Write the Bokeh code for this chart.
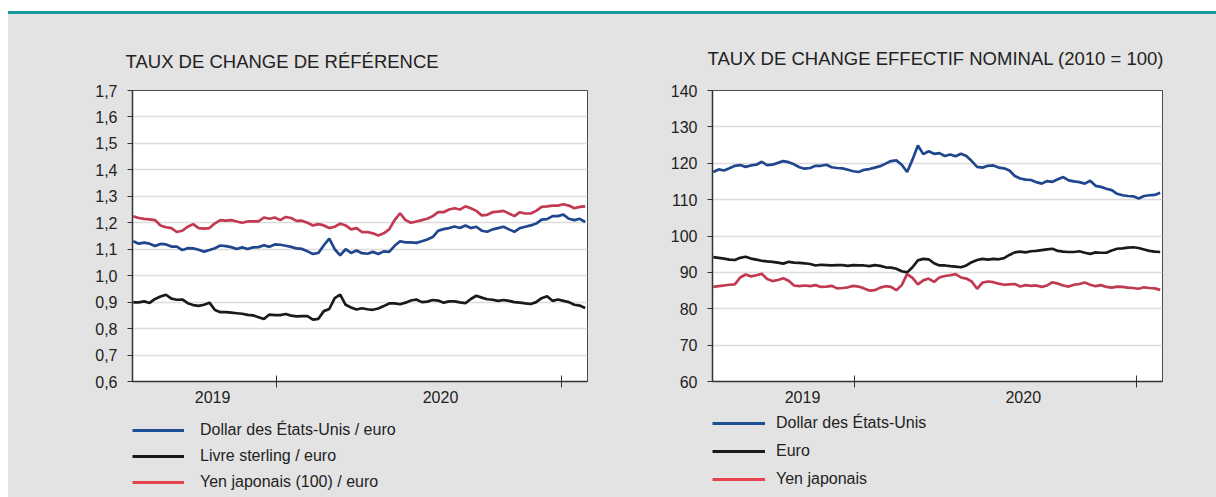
import pandas as pd
from bokeh.plotting import figure
from bokeh.layouts import row, column
from bokeh.models import (Range1d, FixedTicker, CustomJSTickFormatter, Legend, LegendItem, Div)
from bokeh.embed import file_html
from bokeh.resources import INLINE

# ---------------- data (weekly readings) ----------------
dates = pd.date_range("2019-07-01", periods=84, freq="7D")

usd_eur = [1.130, 1.121, 1.125, 1.121, 1.112, 1.120, 1.118, 1.110, 1.110, 1.097,
           1.104, 1.103, 1.098, 1.091, 1.097, 1.104, 1.114, 1.112, 1.108, 1.101,
           1.107, 1.101, 1.107, 1.108, 1.115, 1.109, 1.118, 1.117, 1.113, 1.109,
           1.103, 1.101, 1.092, 1.082, 1.086, 1.115, 1.140, 1.100, 1.077, 1.100,
           1.086, 1.095, 1.085, 1.083, 1.090, 1.082, 1.092, 1.090, 1.113, 1.130,
           1.126, 1.126, 1.124, 1.130, 1.137, 1.146, 1.170, 1.176, 1.180, 1.186,
           1.180, 1.190, 1.180, 1.185, 1.170, 1.166, 1.175, 1.180, 1.185, 1.175,
           1.166, 1.180, 1.185, 1.190, 1.197, 1.212, 1.214, 1.225, 1.225, 1.231,
           1.215, 1.210, 1.215, 1.203]

gbp_eur = [0.899, 0.899, 0.903, 0.897, 0.912, 0.921, 0.928, 0.913, 0.909, 0.910,
           0.896, 0.889, 0.886, 0.890, 0.898, 0.870, 0.862, 0.862, 0.860, 0.858,
           0.856, 0.852, 0.850, 0.843, 0.836, 0.853, 0.851, 0.851, 0.855, 0.849,
           0.846, 0.847, 0.847, 0.834, 0.837, 0.866, 0.874, 0.915, 0.928, 0.890,
           0.880, 0.872, 0.877, 0.873, 0.871, 0.876, 0.885, 0.895, 0.895, 0.892,
           0.898, 0.906, 0.910, 0.900, 0.902, 0.908, 0.906, 0.898, 0.903, 0.903,
           0.899, 0.896, 0.912, 0.924, 0.917, 0.911, 0.909, 0.905, 0.908, 0.905,
           0.900, 0.898, 0.895, 0.893, 0.900, 0.915, 0.922, 0.905, 0.910, 0.905,
           0.900, 0.890, 0.887, 0.878]

jpy_eur = [1.225, 1.218, 1.215, 1.213, 1.210, 1.190, 1.183, 1.180, 1.165, 1.170,
           1.185, 1.195, 1.180, 1.178, 1.180, 1.198, 1.210, 1.208, 1.210, 1.205,
           1.200, 1.205, 1.205, 1.205, 1.220, 1.215, 1.220, 1.210, 1.222, 1.218,
           1.207, 1.208, 1.200, 1.190, 1.195, 1.190, 1.180, 1.185, 1.197, 1.190,
           1.175, 1.180, 1.165, 1.165, 1.160, 1.152, 1.160, 1.175, 1.210, 1.236,
           1.210, 1.200, 1.205, 1.210, 1.215, 1.225, 1.240, 1.240, 1.250, 1.255,
           1.250, 1.262, 1.255, 1.245, 1.228, 1.230, 1.240, 1.242, 1.245, 1.235,
           1.225, 1.240, 1.235, 1.235, 1.245, 1.260, 1.262, 1.265, 1.265, 1.270,
           1.265, 1.255, 1.260, 1.262]

neer_usd = [117.6, 118.3, 118.0, 118.6, 119.3, 119.5, 119.0, 119.4, 119.6, 120.4,
            119.5, 119.6, 120.1, 120.6, 120.3, 119.7, 118.9, 118.5, 118.7, 119.3,
            119.3, 119.6, 118.9, 118.7, 118.6, 118.2, 117.8, 117.6, 118.2, 118.4,
            118.8, 119.2, 119.9, 120.6, 120.8, 119.6, 117.6, 121.0, 124.9, 122.5,
            123.3, 122.6, 122.8, 122.0, 122.4, 121.9, 122.6, 122.0, 120.6, 119.0,
            118.8, 119.3, 119.4, 118.8, 118.6, 118.0, 116.5, 115.8, 115.5, 115.4,
            114.8, 114.4, 115.1, 114.9, 115.6, 116.2, 115.3, 115.0, 114.8, 114.4,
            115.2, 113.8, 113.5, 113.0, 112.6, 111.6, 111.2, 111.0, 110.9, 110.3,
            111.0, 111.2, 111.3, 111.9]

neer_eur = [94.2, 94.0, 93.8, 93.5, 93.4, 94.0, 94.3, 93.8, 93.5, 93.2,
            93.0, 92.9, 92.7, 92.4, 92.9, 92.7, 92.6, 92.5, 92.3, 91.9,
            92.1, 92.0, 91.9, 92.0, 92.0, 91.8, 92.0, 91.9, 91.9, 91.7,
            92.0, 91.8, 91.4, 91.3, 91.0, 90.3, 90.0, 91.4, 93.3, 93.7,
            93.6, 92.5, 91.9, 91.9, 91.7, 91.6, 91.4, 91.9, 92.8, 93.4,
            93.7, 93.5, 93.7, 93.6, 93.9, 94.8, 95.5, 95.7, 95.5, 95.8,
            95.9, 96.1, 96.3, 96.5, 95.9, 95.7, 95.6, 95.6, 95.8, 95.4,
            95.1, 95.5, 95.4, 95.4, 96.0, 96.5, 96.6, 96.8, 96.9, 96.7,
            96.3, 95.9, 95.7, 95.6]

neer_jpy = [86.0, 86.2, 86.4, 86.6, 86.7, 88.6, 89.4, 88.9, 89.2, 89.6,
            88.2, 87.6, 87.9, 88.4, 87.7, 86.4, 86.2, 86.4, 86.2, 86.5,
            86.0, 86.1, 86.3, 85.6, 85.7, 85.9, 86.3, 86.1, 85.6, 85.0,
            85.1, 85.8, 86.2, 86.0, 85.1, 86.5, 89.5, 88.5, 86.7, 87.8,
            88.3, 87.4, 88.6, 89.0, 89.2, 89.5, 88.6, 88.3, 87.5, 85.5,
            87.2, 87.5, 87.3, 86.9, 86.6, 86.7, 86.8, 86.1, 86.5, 86.3,
            86.4, 86.0, 86.4, 87.3, 86.9, 86.4, 86.1, 86.6, 86.8, 87.2,
            86.6, 86.2, 86.5, 86.0, 85.8, 86.1, 86.0, 85.8, 85.7, 85.5,
            85.9, 85.7, 85.6, 85.2]

left_ticks = [0.6, 0.7, 0.8, 0.9, 1.0, 1.1, 1.2, 1.3, 1.4, 1.5, 1.6, 1.7]
right_ticks = [60, 70, 80, 90, 100, 110, 120, 130, 140]
year_boundaries = ["2020-01-01", "2021-01-01"]

left_labels = ["Dollar des États-Unis / euro", "Livre sterling / euro", "Yen japonais (100) / euro"]
right_labels = ["Dollar des États-Unis", "Euro", "Yen japonais"]

# ---------------- style ----------------
BG = "#e3e3e3"
TEAL = "#16989c"
BLUE = "#20468e"
BLACK = "#1a1a1a"
RED = "#c23a51"
LEG_BLUE = "#1d4f98"
LEG_BLACK = "#1a1a1a"
LEG_RED = "#e8424f"
TXT = "#222222"
FONT = "Liberation Sans"

STRIP_H = 14
CHART_H = 394   # y 14 .. 408
LEG_H = 89      # y 408 .. 497


def ms(s):
    return pd.Timestamp(s).value // 10**6


def make_fig(title, width, ml, mr, yr, yticks, fmt_code, label_pos, title_off, title_standoff):
    p = figure(width=width, height=CHART_H, output_backend="svg", toolbar_location=None,
               x_axis_type="datetime",
               x_range=Range1d(ms("2019-06-30"), ms("2021-02-04")),
               y_range=Range1d(*yr),
               min_border_left=ml, min_border_right=mr,
               min_border_top=76, min_border_bottom=27,
               background_fill_color="white", border_fill_color=BG,
               outline_line_color="#4a4a4a", outline_line_width=1)
    p.title.text = title
    p.title.text_font = FONT
    p.title.text_font_size = "18.5px"
    p.title.text_font_style = "normal"
    p.title.text_color = TXT
    p.title.align = "left"
    p.title.offset = title_off
    p.title.standoff = title_standoff

    xa = p.xaxis[0]
    xa.ticker = FixedTicker(ticks=[ms(d) for d in label_pos],
                            minor_ticks=[ms(d) for d in year_boundaries])
    xa.formatter = CustomJSTickFormatter(code="return String(new Date(tick).getUTCFullYear());")
    xa.major_tick_out = 0
    xa.major_tick_in = 0
    xa.minor_tick_out = 6
    xa.minor_tick_in = 6
    xa.minor_tick_line_color = "#333333"
    xa.axis_line_color = "#333333"
    xa.axis_line_width = 1.5
    xa.major_label_standoff = 3
    xa.major_label_text_font = FONT
    xa.major_label_text_font_size = "16px"
    xa.major_label_text_color = TXT

    ya = p.yaxis[0]
    ya.ticker = FixedTicker(ticks=yticks)
    ya.formatter = CustomJSTickFormatter(code=fmt_code)
    ya.major_tick_out = 5
    ya.major_tick_in = 0
    ya.minor_tick_out = 0
    ya.minor_tick_in = 0
    ya.major_tick_line_color = "#333333"
    ya.axis_line_color = "#333333"
    ya.axis_line_width = 1.5
    ya.major_label_standoff = 10
    ya.major_label_text_font = FONT
    ya.major_label_text_font_size = "16px"
    ya.major_label_text_color = TXT

    p.xgrid.visible = False
    p.ygrid.grid_line_color = "#dcdcdc"
    p.ygrid.grid_line_width = 1.5
    return p


def make_legend_fig(width, ml, mt, labels, series, spacing, standoff, glyph_w):
    # the legend lines reuse the plotted series, drawn outside this panel's visible range
    f = figure(width=width, height=LEG_H, output_backend="svg", toolbar_location=None,
               x_range=Range1d(0, 1), y_range=Range1d(0, 1),
               x_axis_type=None, y_axis_type=None,
               min_border_left=ml, min_border_top=mt, min_border_right=0, min_border_bottom=0,
               background_fill_color=None, border_fill_color=BG, outline_line_color=None)
    f.xgrid.visible = False
    f.ygrid.visible = False
    rs = [f.line(list(range(2, 2 + len(s))), s, line_color=c, line_width=3)
          for s, c in zip(series, (LEG_BLUE, LEG_BLACK, LEG_RED))]
    leg = Legend(items=[LegendItem(label=t, renderers=[r]) for t, r in zip(labels, rs)],
                 location="top_left", orientation="vertical",
                 background_fill_alpha=0, border_line_alpha=0,
                 padding=0, margin=0, spacing=spacing,
                 glyph_width=glyph_w, glyph_height=20, label_height=20,
                 label_standoff=standoff,
                 label_text_font=FONT, label_text_font_size="16px", label_text_color=TXT)
    f.add_layout(leg)
    return f


# ---------------- top teal strip ----------------
strip = Div(text=f'<div style="width:1208px;height:3px;margin-top:11px;margin-left:8px;background:{TEAL};"></div>',
            width=1216, height=STRIP_H, margin=0,
            styles={"background-color": "white"})

# ---------------- left chart ----------------
p1 = make_fig("TAUX DE CHANGE DE RÉFÉRENCE", 600, 123, 21, (0.6, 1.7), left_ticks,
              "return tick.toFixed(1).replace('.', ',');",
              ["2019-10-11", "2020-07-30"], -7, 38)
p1.line(dates, gbp_eur, line_color=BLACK, line_width=2.7)
p1.line(dates, usd_eur, line_color=BLUE, line_width=2.7)
p1.line(dates, jpy_eur, line_color=RED, line_width=2.7)
g1 = make_legend_fig(600, 124, 12, left_labels, (usd_eur, gbp_eur, jpy_eur), 6, 16, 52)

# ---------------- right chart ----------------
p2 = make_fig("TAUX DE CHANGE EFFECTIF NOMINAL (2010 = 100)", 608, 103, 54, (60, 140), right_ticks,
              "return String(tick);",
              ["2019-10-25", "2020-08-07"], -5, 43)
p2.line(dates, neer_eur, line_color=BLACK, line_width=2.7)
p2.line(dates, neer_jpy, line_color=RED, line_width=2.7)
p2.line(dates, neer_usd, line_color=BLUE, line_width=2.7)
g2 = make_legend_fig(608, 104, 5, right_labels, (neer_usd, neer_eur, neer_jpy), 8, 11, 53)

bgs = {"background-color": BG}
layout = column(strip,
                row(column(p1, g1, spacing=0, styles=bgs),
                    column(p2, g2, spacing=0, styles=bgs),
                    spacing=0, styles=bgs, margin=(0, 0, 0, 8)),
                spacing=0)
open("out.html", "w").write(file_html(layout, INLINE))
